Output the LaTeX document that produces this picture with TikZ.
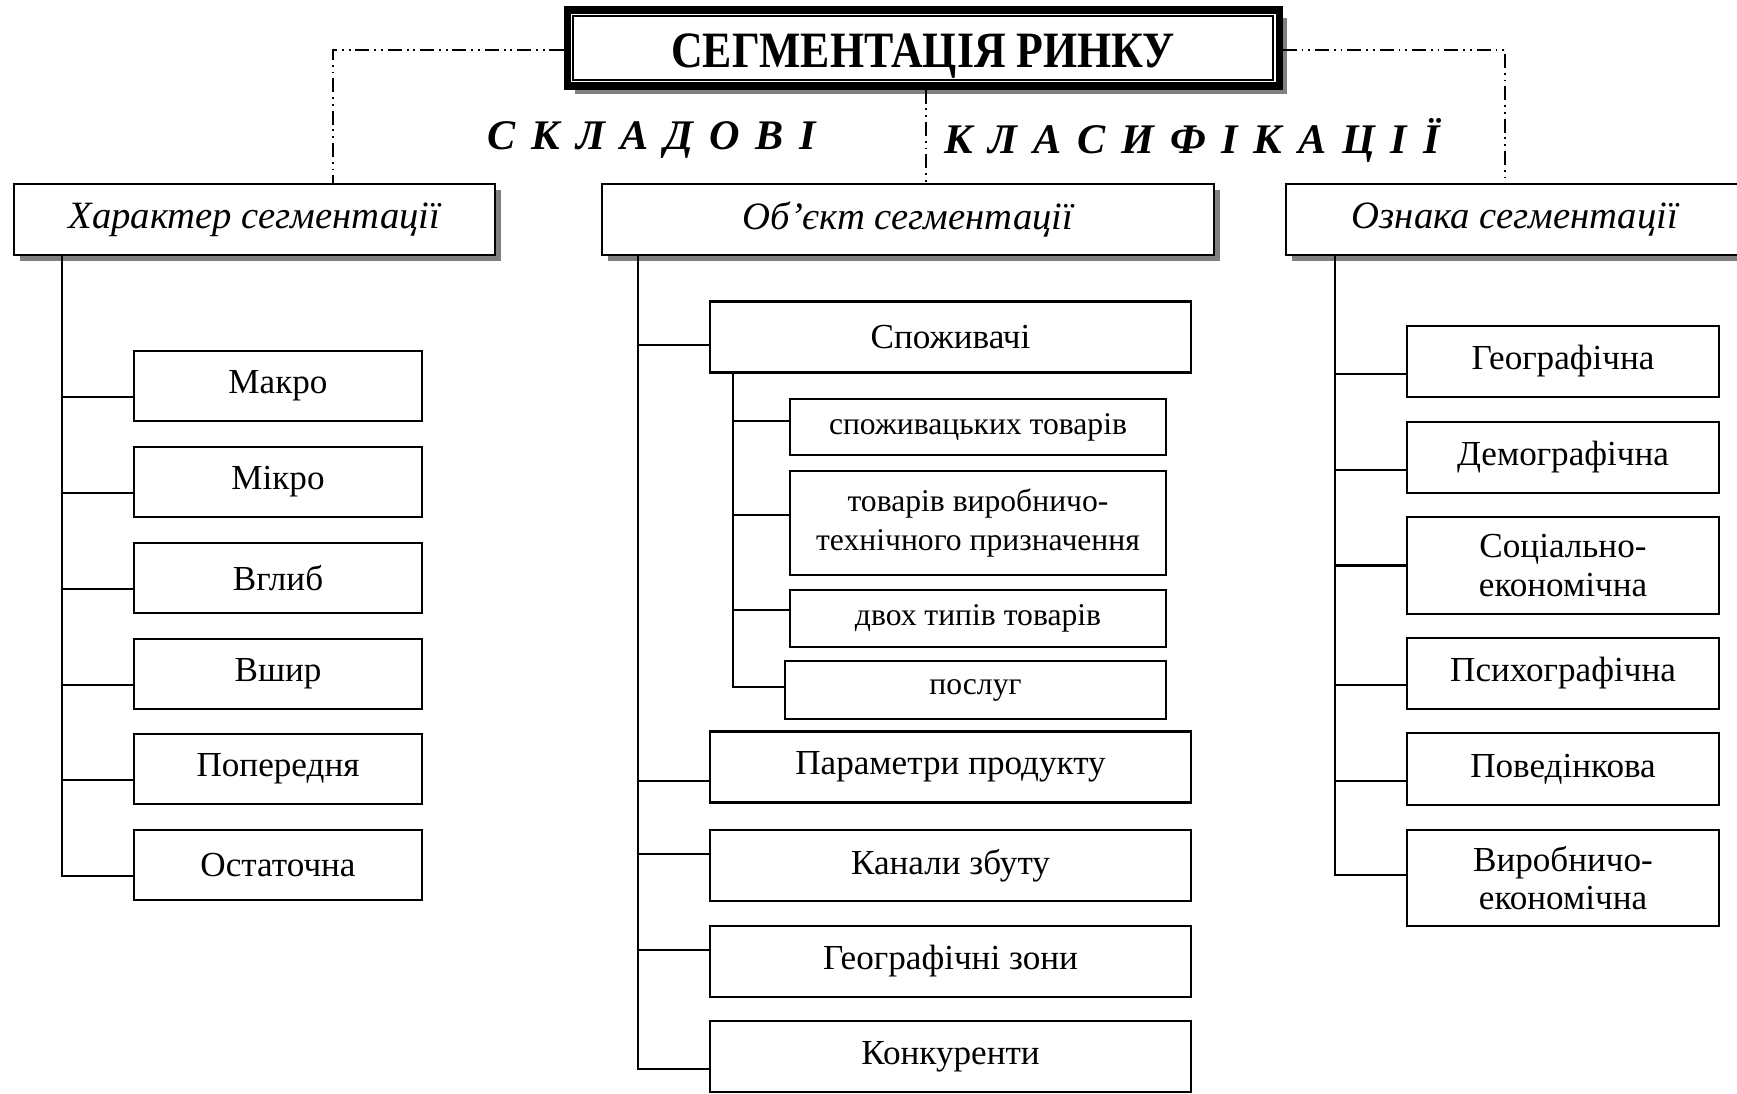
\documentclass[tikz,border=0pt]{standalone}
\usepackage{fontspec}
\setmainfont{Liberation Serif}
\newfontfamily\titlefont[FakeStretch=0.86]{Liberation Serif}
\newfontfamily\spacedfont[WordSpace=1.5]{Liberation Serif}
\usetikzlibrary{shadows}
\definecolor{ShadowGray}{HTML}{808080}

\begin{document}
\begin{tikzpicture}[x=0.1mm, y=-0.1mm, line width=0.6pt,
    box/.style={draw, fill=white, inner sep=0pt, align=center, minimum height=7mm, font=\fontsize{10}{11}\selectfont},
    subbox/.style={box, font=\fontsize{9}{11}\selectfont},
    headbox/.style={box, minimum height=7.1mm, font=\fontsize{11}{13}\selectfont\itshape,
        drop shadow={shadow xshift=1.7pt, shadow yshift=-1.7pt, fill=ShadowGray, opacity=1}},
    dashdot/.style={line width=0.5pt, dash pattern=on 4pt off 1.4pt on 0.5pt off 1.4pt on 0.5pt off 1.4pt},
    spaced/.style={font=\fontsize{12}{14}\selectfont\spacedfont\bfseries\itshape}]
    \useasboundingbox (0,0) rectangle (1737,1093);

    % title
    \node[draw, fill=white, line width=2pt, inner sep=0pt, minimum width=71.2mm, minimum height=7.6mm,
        text height=11pt, text depth=0pt, font=\fontsize{14.5}{16}\selectfont\titlefont\bfseries,
        drop shadow={shadow xshift=2.4pt, shadow yshift=-2.4pt, fill=ShadowGray, opacity=1}] (title) at (923,48) {СЕГМЕНТАЦІЯ РИНКУ};
    \draw[line width=0.7pt] ([shift={(0.95mm,-0.95mm)}]title.north west) rectangle ([shift={(-0.95mm,0.95mm)}]title.south east);

    \node[spaced] (sklad) at (652,140) {С К Л А Д О В І};
    \node[spaced] (klas) at (1192,140) {К Л А С И Ф І К А Ц І Ї};

    % headers
    \node[headbox, minimum width=48.1mm] (khar) at (254.5,219.5) {Характер сегментації};
    \node[headbox, minimum width=61.2mm] (obj) at (908,219.5) {Об’єкт сегментації};
    \node[headbox, minimum width=45.8mm] (ozn) at (1515,219.5) {Ознака сегментації};

    \draw[dashdot] ([yshift=-0.2mm]title.west) -| ([xshift=7.85mm]khar.north);
    \draw[dashdot] ([yshift=-0.2mm]title.east) -| ([xshift=-1mm]ozn.north);
    \draw[dashdot] ([xshift=0.3mm]title.south) -- ([xshift=0.3mm]title.south |- obj.north);

    % left column
    \foreach \name/\y/\txt in {makro/386/Макро, mikro/482/Мікро, vhlyb/578/Вглиб,
        vshyr/674/Вшир, poper/769/Попередня, ostat/865/Остаточна} {
        \node[box, minimum width=28.8mm] (\name) at (278,\y) {\txt};
        \draw ([xshift=4.9mm]khar.south west) |- ([yshift=-1.1mm]\name.west);
    }

    % middle column
    \foreach \name/\y/\dy/\txt in {spozh/337/-0.8mm/Споживачі, param/767/-1.4mm/Параметри продукту,
        kanal/865.5/1.15mm/Канали збуту, geoz/961.5/1.15mm/Географічні зони, konk/1056.5/-1.25mm/Конкуренти} {
        \node[box, minimum width=48.1mm, minimum height=7.1mm] (\name) at (950.5,\y) {\txt};
        \draw ([xshift=3.7mm]obj.south west) |- ([yshift=\dy]\name.west);
    }

    \foreach \name/\x/\y/\w/\h/\dy/\txt in {sptov/978/427/37.6mm/5.6mm/0.6mm/споживацьких товарів,
        vytov/978/523/37.6mm/10.4mm/0.8mm/{товарів виробничо-\\технічного призначення},
        dvtov/978/618.5/37.6mm/5.7mm/0.85mm/двох типів товарів,
        posl/975.5/690/38.1mm/5.8mm/0.3mm/послуг} {
        \node[subbox, minimum width=\w, minimum height=\h] (\name) at (\x,\y) {\txt};
        \draw ([xshift=2.4mm]spozh.south west) |- ([yshift=\dy]\name.west);
    }

    % right column
    \foreach \name/\y/\h/\dy/\txt in {geo/361.5/7.1mm/-1.25mm/Географічна, demo/457.5/7.1mm/-1.25mm/Демографічна,
        soc/565.5/9.7mm/0mm/{Соціально-\\економічна}, psych/673.5/7.1mm/-1.15mm/Психографічна,
        povid/769/7.2mm/-1.2mm/Поведінкова, vyrob/878/9.6mm/0.3mm/{Виробничо-\\економічна}} {
        \node[box, minimum width=31.2mm, minimum height=\h] (\name) at (1563,\y) {\txt};
        \draw ([xshift=5mm]ozn.south west) |- ([yshift=\dy]\name.west);
    }
\end{tikzpicture}
\end{document}
